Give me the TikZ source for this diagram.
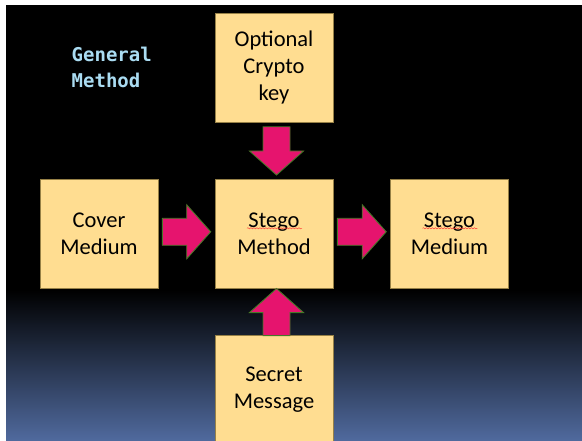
\documentclass[tikz,border=0pt]{standalone}
\usepackage{fontspec}
\setmainfont{Carlito}
\newfontfamily\monobold{DejaVu Sans Mono}[FakeStretch=1]
\usetikzlibrary{calc,decorations.pathmorphing}

\definecolor{boxfill}{RGB}{255,221,145}
\definecolor{boxline}{RGB}{150,128,70}
\definecolor{arrowfill}{RGB}{230,20,110}
\definecolor{arrowline}{RGB}{72,120,40}
\definecolor{titleblue}{RGB}{170,220,242}
\definecolor{deepblue}{RGB}{80,106,158}

\tikzset{
  block/.style={draw=boxline, line width=0.6pt, fill=boxfill,
    minimum width=118pt, minimum height=109pt, inner sep=0pt,
    align=center, text=black,
    font=\fontsize{22.5}{27}\selectfont},
  flow/.style={draw=arrowline, line width=0.9pt, fill=arrowfill, line join=miter},
  squiggle/.style={draw=red!80!white, line width=0.4pt,
    decorate, decoration={snake, amplitude=0.6pt, segment length=3pt}}
}

% fat block arrow from point #1 to point #2 (tip at #2)
\newcommand\fatarrow[2]{%
  \coordinate (s) at (#1);
  \coordinate (t) at (#2);
  \coordinate (h) at ($(t)!24pt!(s)$);
  \draw[flow] ($(s)!13.5pt!90:(t)$) -- ($(h)!13.5pt!-90:(s)$)
    -- ($(h)!27pt!-90:(s)$) -- (t) -- ($(h)!27pt!90:(s)$)
    -- ($(h)!13.5pt!90:(s)$) -- ($(s)!13.5pt!-90:(t)$) -- cycle;
}

\begin{document}
\begin{tikzpicture}[x=1pt, y=-1pt]
  \useasboundingbox (0,0) rectangle (582,441);
  \clip (0,0) rectangle (582,441);

  % slide background
  \fill[white] (0,0) rectangle (582,441);
  \fill[black] (6,5) rectangle (582,291);
  \shade[top color=black, bottom color=deepblue] (6,290) rectangle (582,441);

  % heading
  \node[anchor=base west, inner sep=0pt, text=titleblue,
        font=\monobold\bfseries\fontsize{19}{25.6}\selectfont] (title) at (71.5,61.7)
    {\vtop{\baselineskip=25.6pt \hbox{General}\hbox{Method}}};

  % blocks
  \node[block] (key)    at (274,68)    {Optional\\Crypto\\key};
  \node[block] (method) at (274,233.8) {Stego\\Method};
  \node[block] (cover)  at (99,233.8)  {Cover\\Medium};
  \node[block] (medium) at (449.5,233.8) {Stego\\Medium};
  \node[block] (secret) at (274,389.5) {Secret\\Message};

  % spell-check marks under "Stego"
  \draw[squiggle] ($(method.center)+(-27,-5.5)$) -- ++(55,0);
  \draw[squiggle] ($(medium.center)+(-27,-5.5)$) -- ++(55,0);

  % flow arrows
  \fatarrow{$(key.south)+(2.5,4)$}{$(method.north)+(2.5,-4)$}
  \fatarrow{$(cover.east)+(4,-2)$}{$(method.west)+(-4,-2)$}
  \fatarrow{$(method.east)+(4,-2)$}{$(medium.west)+(-4,-2)$}
  \fatarrow{$(secret.north)+(2.5,1)$}{$(method.south)+(2.5,0)$}
\end{tikzpicture}
\end{document}
